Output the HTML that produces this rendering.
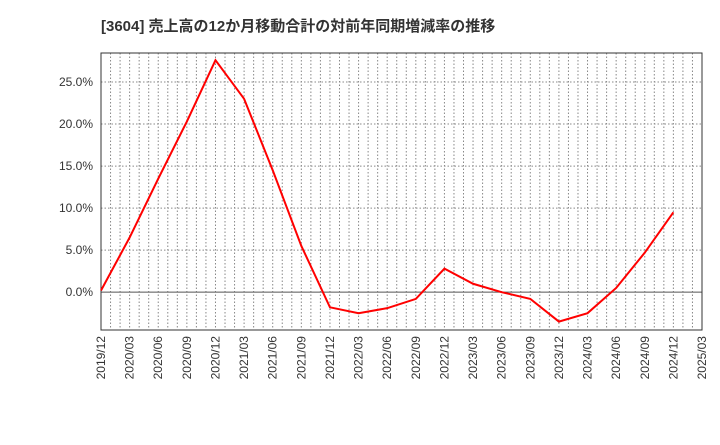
<!DOCTYPE html>
<html><head><meta charset="utf-8"><style>
body{margin:0;background:#fff;width:720px;height:440px;overflow:hidden;font-family:"Liberation Sans","Noto Sans CJK JP",sans-serif}
</style></head><body>
<svg id="c" width="720" height="440" xmlns="http://www.w3.org/2000/svg">
<text x="101" y="31" font-size="15" font-weight="bold" fill="#333" font-family="Liberation Sans, Noto Sans CJK JP, sans-serif">[3604]  売上高の12か月移動合計の対前年同期増減率の推移</text>
</svg>
<script>
const xLabels=["2019/12","2020/03","2020/06","2020/09","2020/12","2021/03","2021/06","2021/09","2021/12","2022/03","2022/06","2022/09","2022/12","2023/03","2023/06","2023/09","2023/12","2024/03","2024/06","2024/09","2024/12","2025/03"];
const values=[0.2,6.5,13.5,20.3,27.6,23.0,14.5,5.5,-1.8,-2.5,-1.9,-0.8,2.8,1.0,0.0,-0.8,-3.5,-2.5,0.5,4.7,9.5];
const yTicks=[0,5,10,15,20,25];
const L=101,R=702,T=53,B=330;
const yMin=-4.5,yMax=28.45;
const ns="http://www.w3.org/2000/svg",svg=document.getElementById('c');
const xs=i=>L+(R-L)*i/(xLabels.length-1);
const ys=v=>B-(v-yMin)/(yMax-yMin)*(B-T);
function mk(t,a,p){const e=document.createElementNS(ns,t);for(const k in a)e.setAttribute(k,a[k]);(p||svg).appendChild(e);return e;}
const g=mk('g',{});


const nm=(xLabels.length-1)*3;
for(let m=1;m<nm;m++){const x=L+(R-L)*m/nm;const l=mk('line',{x1:x,x2:x,y1:T,y2:B,stroke:'#888','stroke-dasharray':'1.5,2','stroke-width':1},g);

}
yTicks.forEach(v=>{const y=ys(v);const l=mk('line',{x1:L,x2:R,y1:y,y2:y,stroke:v===0?'#555':'#888','stroke-dasharray':v===0?'':'1.5,2','stroke-width':1},g);


const t=mk('text',{x:L-8,y:y+4,'text-anchor':'end','font-size':12,fill:'#333'});t.textContent=v.toFixed(1)+'%';

});
const f=mk('rect',{x:L,y:T,width:R-L,height:B-T,fill:'none',stroke:'#333','stroke-width':1});


xLabels.forEach((s,i)=>{const x=xs(i)+4;const t=mk('text',{x:x,y:B+6,'text-anchor':'end','font-size':12,fill:'#333',transform:`rotate(-90 ${x} ${B+6})`});t.textContent=s;

});
const p=mk('polyline',{points:values.map((v,i)=>xs(i)+','+ys(v)).join(' '),fill:'none',stroke:'#f00','stroke-width':2});


</script>
</body></html>
